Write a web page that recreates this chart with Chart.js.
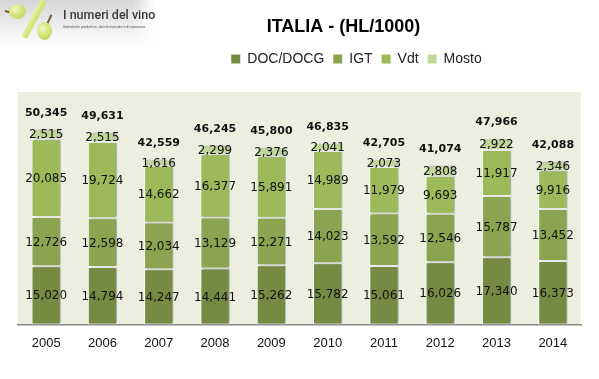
<!DOCTYPE html>
<html>
<head>
<meta charset="utf-8">
<script src="https://cdn.jsdelivr.net/npm/chart.js@4/dist/chart.umd.min.js"></script>
<style>
html,body{margin:0;padding:0;background:#fff;}
#wrap{position:relative;width:599px;height:379px;overflow:hidden;background:#fff;}
#c{position:absolute;left:0;top:0;}
#logo{position:absolute;left:0;top:0;width:155px;height:48px;pointer-events:none;
  background:linear-gradient(to right,rgba(255,255,255,0) 85%,#fff 100%),linear-gradient(to bottom,#d6d6d6 0%,#eeeeee 55%,#ffffff 100%);}
.grape{position:absolute;border-radius:50%;background:radial-gradient(circle at 38% 35%,#f1f8c2 0%,#d3e57d 45%,#b3cc4e 100%);}
.stem{position:absolute;height:1.5px;background:#7a5a30;transform-origin:left center;}
#slash{position:absolute;left:31px;top:-2px;width:6px;height:42px;background:linear-gradient(to right,#e3f09a,#cbe06a);transform:rotate(28deg);border-radius:2px;}
#ltitle{position:absolute;left:63px;top:7px;font:500 12.5px Roboto,"Liberation Sans",sans-serif;color:#3a3a3a;white-space:nowrap;}
#lsub{position:absolute;left:63px;top:25px;font:3.6px Roboto,"Liberation Sans",sans-serif;color:#555;white-space:nowrap;}
</style>
</head>
<body>
<div id="wrap">
  <canvas id="c" width="599" height="379"></canvas>
  <div id="logo">
    <div class="stem" style="left:5px;top:10px;width:8px;transform:rotate(15deg);"></div>
    <div class="grape" style="left:9px;top:4px;width:17px;height:15px;"></div>
    <div id="slash"></div>
    <div class="stem" style="left:47px;top:23px;width:10px;transform:rotate(-65deg);"></div>
    <div class="grape" style="left:37px;top:22px;width:15px;height:18px;"></div>
    <div id="ltitle">I numeri del vino</div>
    <div id="lsub">Statistiche produttive, dati di mercato e di consumo.</div>
  </div>
</div>
<script>
// ---- data ----
const years = ['2005','2006','2007','2008','2009','2010','2011','2012','2013','2014'];
const seriesNames = ['DOC/DOCG','IGT','Vdt','Mosto'];
const docDocg = [15020,14794,14247,14441,15262,15782,15061,16026,17340,16373];
const igt     = [12726,12598,12034,13129,12271,14023,13592,12546,15787,13452];
const vdt     = [20085,19724,14662,16377,15891,14989,11979,9693,11917,9916];
const mosto   = [2515,2515,1616,2299,2376,2041,2073,2808,2922,2346];
const totals  = [50345,49631,42559,46245,45800,46835,42705,41074,47966,42088];
const titleText = 'ITALIA - (HL/1000)';

// ---- styles ----
const seriesColors = ['#778A43','#8CA44F','#9DBA5A','#C2D59C'];
const plotBg = '#ECEEE0';
const sans = '"Liberation Sans", Arial, sans-serif';

const fmt = v => v.toLocaleString('en-US');

const bgPlugin = {
  id: 'plotBg',
  beforeDraw(chart) {
    const a = chart.chartArea, c = chart.ctx;
    c.save(); c.fillStyle = plotBg;
    c.fillRect(a.left, a.top, a.right - a.left, a.bottom - a.top);
    c.restore();
  }
};
const shadowPlugin = {
  id: 'barShadow',
  beforeDatasetsDraw(chart) {
    const c = chart.ctx; c.save();
    c.shadowColor = 'rgba(0,0,0,0.30)'; c.shadowOffsetX = 2; c.shadowOffsetY = 0; c.shadowBlur = 2;
  },
  afterDatasetsDraw(chart) { chart.ctx.restore(); }
};
const labelPlugin = {
  id: 'valueLabels',
  afterDatasetsDraw(chart) {
    const c = chart.ctx;
    c.save();
    c.textAlign = 'center'; c.textBaseline = 'middle'; c.fillStyle = '#111';
    c.font = '12px "DejaVu Sans", Verdana, sans-serif';
    chart.data.datasets.forEach((ds, i) => {
      chart.getDatasetMeta(i).data.forEach((el, j) => {
        const p = el.getProps(['x','y','base'], true);
        c.fillText(fmt(ds.data[j]), p.x, (p.y + p.base) / 2 + 1);
      });
    });
    c.font = 'bold 11px "DejaVu Sans", Verdana, sans-serif';
    const topMeta = chart.getDatasetMeta(chart.data.datasets.length - 1);
    topMeta.data.forEach((el, j) => {
      const p = el.getProps(['x','y'], true);
      c.fillText(fmt(totals[j]), p.x, p.y - 16);
    });
    c.restore();
  }
};
const shiftPlugin = {
  id: 'shiftHeader',
  afterLayout(chart) {
    const t = chart.titleBlock;
    if (t) { t.left += 44; t.right += 44; }
    const l = chart.legend;
    if (l) { l.left += 57; l.right += 57; l.top -= 16; l.bottom -= 16; }
  }
};

const allSeries = [docDocg, igt, vdt, mosto];
const datasets = allSeries.map((d, i) => ({
  label: seriesNames[i],
  data: d,
  backgroundColor: seriesColors[i],
  borderColor: '#ffffff',
  borderWidth: 1,
  borderSkipped: false,
  categoryPercentage: 1.0,
  barPercentage: 0.52
}));

new Chart(document.getElementById('c'), {
  type: 'bar',
  data: { labels: years, datasets },
  options: {
    responsive: false,
    animation: false,
    devicePixelRatio: 1,
    layout: { padding: { left: 18, right: 18, top: 0, bottom: 17 } },
    plugins: {
      title: {
        display: true, text: titleText, color: '#000',
        font: { family: sans, size: 18, weight: 'bold' },
        padding: { top: 16, bottom: 21.4 }
      },
      legend: {
        display: true, position: 'top',
        labels: {
          color: '#222', boxWidth: 9, boxHeight: 9, padding: 9,
          font: { family: sans, size: 14 },
          generateLabels(chart) {
            return Chart.defaults.plugins.legend.labels.generateLabels(chart)
              .map(l => Object.assign(l, { lineWidth: 0, strokeStyle: 'rgba(0,0,0,0)' }));
          }
        }
      },
      tooltip: { enabled: false }
    },
    scales: {
      x: {
        stacked: true,
        grid: { display: false, drawTicks: false },
        border: { display: true, color: '#8a8a8a', width: 1.5 },
        ticks: { color: '#111', padding: 11, font: { family: sans, size: 13 } }
      },
      y: { stacked: true, display: false, min: 0, max: 60000 }
    }
  },
  plugins: [bgPlugin, shadowPlugin, labelPlugin, shiftPlugin]
});
</script>
</body>
</html>
